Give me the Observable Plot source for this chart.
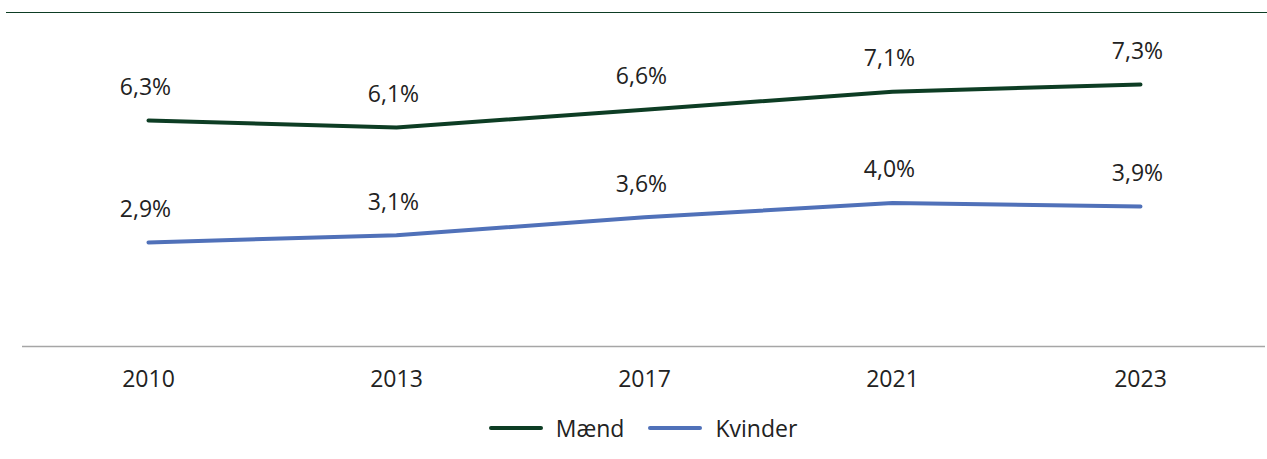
<!DOCTYPE html>
<html>
<head>
<meta charset="utf-8">
<script src="https://cdn.jsdelivr.net/npm/d3@7"></script>
<script src="https://cdn.jsdelivr.net/npm/@observablehq/plot@0.6"></script>
<style>
  body { margin: 0; background: #fff; font-family: "Open Sans", sans-serif; }
  #wrap { position: relative; width: 1267px; height: 459px; }
  #toprule { position: absolute; top: 12px; left: 6px; right: 0; height: 1.3px; background: #0d3d24; }
  #legend { display: flex; justify-content: center; align-items: center; gap: 0; height: 24px; margin-top: 16px; padding-left: 19px; font-size: 23px; color: #222; }
  .item { display: flex; align-items: center; margin: 0 12px; }
  .sw { width: 54px; height: 4px; border-radius: 2px; margin-right: 13px; }
</style>
</head>
<body>
<div id="wrap">
  <div id="toprule"></div>
  <div id="chart"></div>
  <div id="legend"></div>
</div>
<script>
const years = ["2010", "2013", "2017", "2021", "2023"];
const maend = [6.3, 6.1, 6.6, 7.1, 7.3];
const kvinder = [2.9, 3.1, 3.6, 4.0, 3.9];
const seriesNames = ["Mænd", "Kvinder"];
const seriesColors = ["#0d3d24", "#5071b9"];

const data = [];
years.forEach((y, i) => {
  data.push({year: y, value: maend[i], series: seriesNames[0]});
  data.push({year: y, value: kvinder[i], series: seriesNames[1]});
});
const fmt = v => v.toFixed(1).replace(".", ",") + "%";

const chart = Plot.plot({
  width: 1267,
  height: 400,
  marginLeft: 22,
  marginRight: 2,
  marginTop: 23,
  marginBottom: 54,
  style: {fontFamily: "Open Sans, sans-serif", fontSize: "23px", color: "#222", background: "transparent"},
  x: {type: "point", domain: years, padding: 0.5, label: null},
  y: {domain: [0, 9], axis: null},
  color: {domain: seriesNames, range: seriesColors},
  marks: [
    Plot.ruleY([0], {stroke: "#a6a6a6", strokeWidth: 1.3}),
    Plot.axisX({tickSize: 0, tickPadding: 24, fontSize: 23, label: null, fill: "#222"}),
    Plot.line(data, {x: "year", y: "value", z: "series", stroke: "series", strokeWidth: 4, strokeLinecap: "round"}),
    Plot.text(data, {x: "year", y: "value", text: d => fmt(d.value), dy: -33, dx: -3, fill: "#222", fontSize: 23})
  ]
});
document.getElementById("chart").appendChild(chart);

const legend = document.getElementById("legend");
seriesNames.forEach((n, i) => {
  const it = document.createElement("div");
  it.className = "item";
  const sw = document.createElement("div");
  sw.className = "sw";
  sw.style.background = seriesColors[i];
  const lb = document.createElement("span");
  lb.textContent = n;
  it.appendChild(sw); it.appendChild(lb);
  legend.appendChild(it);
});
</script>
</body>
</html>
